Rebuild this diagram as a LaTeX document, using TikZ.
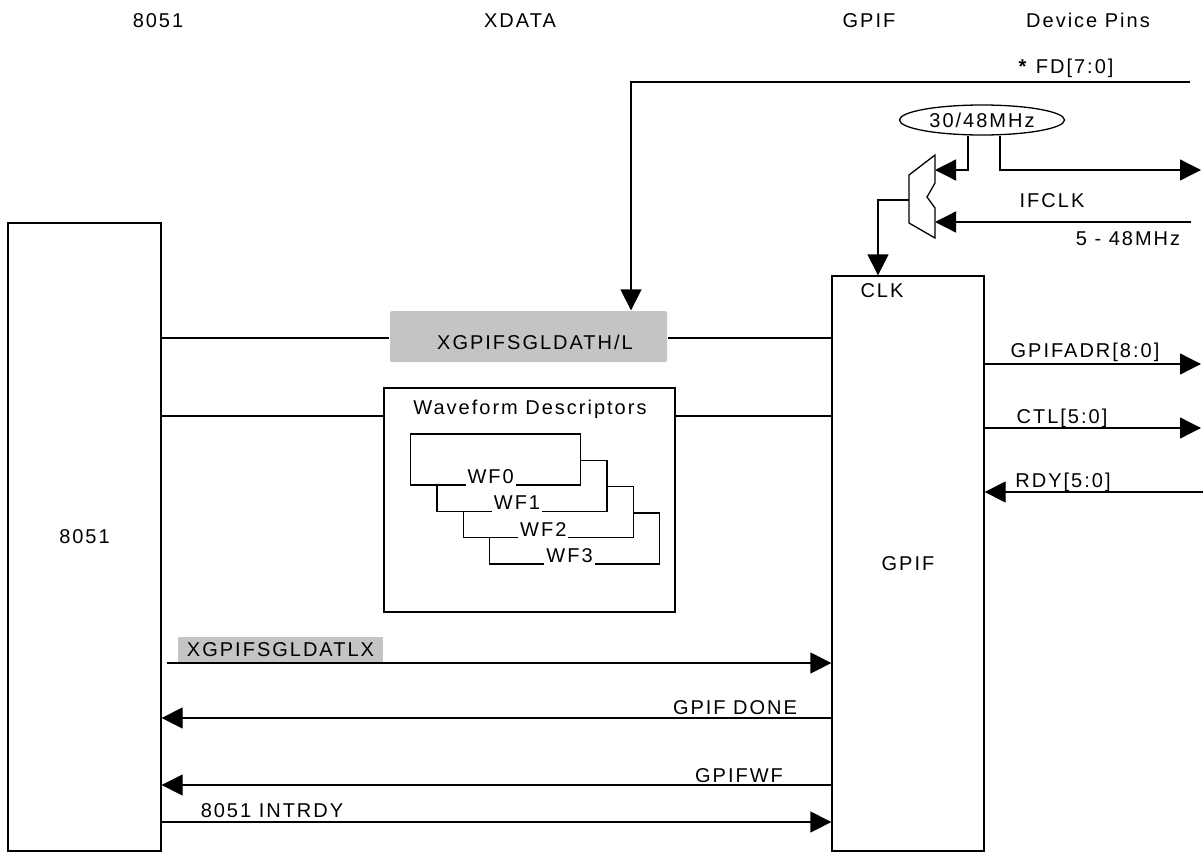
\documentclass[tikz,border=0pt]{standalone}
\usepackage{fontspec}
\setmainfont{Liberation Sans}[LetterSpace=10]
\usepackage{tikz}
\usetikzlibrary{positioning,arrows.meta,shapes.geometric,calc}
\definecolor{gpifgrey}{HTML}{C4C4C4}

\begin{document}
\begin{tikzpicture}[x=1pt,y=-1pt,line width=1.3pt,
  font=\fontsize{20}{24}\selectfont,
  box/.style={draw,inner sep=0pt},
  reg/.style={fill=gpifgrey,inner sep=0pt,rounded corners=1.5pt},
  wfbox/.style={draw,fill=white,inner sep=0pt,minimum width=170pt,minimum height=51pt},
  wflab/.style={fill=white,inner xsep=2pt,inner ysep=3pt,anchor=base},
  lab/.style={inner sep=0pt,anchor=base},
  arr/.style={-{Triangle[length=21pt,width=21pt]}}
]
\useasboundingbox (0,0) rectangle (1203,857);

\node[lab] (t8051) at (158,27) {8051};
\node[lab] (txdata) at (520,27) {XDATA};
\node[lab] (tgpif) at (869,27) {GPIF};
\node[lab] (tpins) at (1088,27) {Device Pins};

\node[box,minimum width=153pt,minimum height=628pt] (mcu) at (84.5,537) {8051};
\node[box,minimum width=152pt,minimum height=575pt] (gpif) at (908,563.5) {GPIF};
\node[lab] (clklab) at (882,297) {CLK};

\node[reg,minimum width=277pt,minimum height=51pt] (sgl) at (528.5,336.5) {};
\node[lab] (sgllab) at (535,349) {XGPIFSGLDATH/L};
\node[box,minimum width=291pt,minimum height=224pt] (wfd) at (529.5,500) {};
\node[lab] (wfdlab) at (530,414) {Waveform Descriptors};
\foreach \i in {3,2,1,0}{
  \node[wfbox] (wf\i) at ({495.7+26.3*\i},{459.5+26.3*\i}) {};
  \node[wflab] at ([xshift=-5pt,yshift=2pt]wf\i.south) {WF\i};
}

\node[draw,ellipse,inner sep=0pt,minimum width=165pt,minimum height=30pt] (osc) at (982,120) {30/48MHz};
\draw (909,175) -- (935,155) -- (935,183) -- (927,197) -- (935,208) -- (935,238) -- (909,223) -- cycle;
\coordinate (muxa) at (935,170);
\coordinate (muxb) at (935,222);
\coordinate (muxo) at (909,200);

\coordinate (fdpin) at (1190,82);
\coordinate (clkpin) at (1201,170);
\coordinate (ifclkpin) at (1191,222);
\coordinate (adrpin) at (1201,364);
\coordinate (ctlpin) at (1201,428);
\coordinate (rdypin) at (1203,492);

\node[lab] (fdlab) at (1066,73) {\textbf{*} FD[7:0]};
\node[lab] (ifclklab) at (1052,207) {IFCLK};
\node[lab] (ifclkfrq) at (1128,245) {5 - 48MHz};
\node[lab] (adrlab) at (1085,357) {GPIFADR[8:0]};
\node[lab] (ctllab) at (1062,423) {CTL[5:0]};
\node[lab] (rdylab) at (1063,487) {RDY[5:0]};

\draw[arr] (fdpin) -| (sgl.north -| 631,0);
\draw[arr] (osc.south -| 968,0) |- (muxa);
\draw[arr] (osc.south -| 1000,0) |- (clkpin);
\draw[arr] (ifclkpin) -- (muxb);
\draw[arr] (muxo) -| (gpif.north -| 878,0);

\draw (mcu.east |- 0,338) -- (sgl.west |- 0,338);
\draw (sgl.east |- 0,338) -- (gpif.west |- 0,338);
\draw (mcu.east |- 0,416) -- (wfd.west |- 0,416);
\draw (wfd.east |- 0,416) -- (gpif.west |- 0,416);

\draw[arr] (gpif.east |- adrpin) -- (adrpin);
\draw[arr] (gpif.east |- ctlpin) -- (ctlpin);
\draw[arr] (rdypin) -- (gpif.east |- rdypin);

\node[reg,minimum width=205pt,minimum height=26pt,rounded corners=0pt] (sgllx) at (280.5,650) {XGPIFSGLDATLX};
\node[lab] (donelab) at (735,714) {GPIF DONE};
\node[lab] (wflab) at (739,782) {GPIFWF};
\node[lab] (intlab) at (272,817) {8051 INTRDY};

\draw[arr] ([xshift=5pt]mcu.east |- 0,663) -- (gpif.west |- 0,663);
\draw[arr] (gpif.west |- 0,718) -- (mcu.east |- 0,718);
\draw[arr] (gpif.west |- 0,785) -- (mcu.east |- 0,785);
\draw[arr] (mcu.east |- 0,822) -- (gpif.west |- 0,822);
\end{tikzpicture}
\end{document}
